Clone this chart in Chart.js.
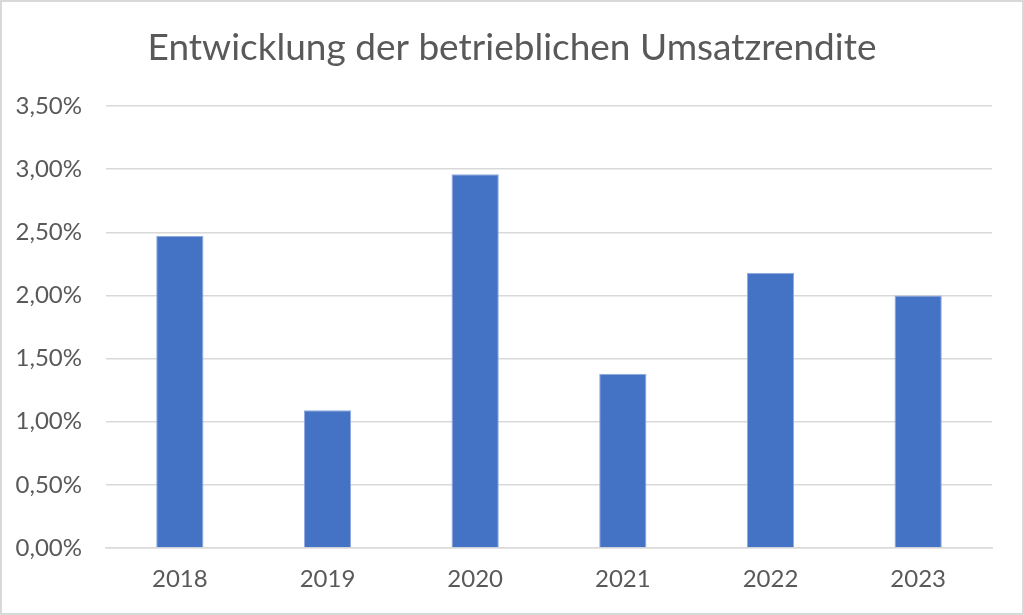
<!DOCTYPE html>
<html>
<head>
<meta charset="utf-8">
<script src="https://cdn.jsdelivr.net/npm/chart.js@4/dist/chart.umd.min.js"></script>
<style>
html,body{margin:0;padding:0;background:#fff;}
#wrap{width:1024px;height:615px;position:relative;}
</style>
</head>
<body>
<div id="wrap"><canvas id="c" width="1024" height="615"></canvas></div>
<script>
const titleText = 'Entwicklung der betrieblichen Umsatzrendite';
const categories = ['2018', '2019', '2020', '2021', '2022', '2023'];
const values = [2.47, 1.09, 2.96, 1.38, 2.18, 2.00];
const yTicks = [0, 0.5, 1.0, 1.5, 2.0, 2.5, 3.0, 3.5];

const fontFamily = 'Lato, "Open Sans", sans-serif';

const borderPlugin = {
  id: 'bg',
  beforeDraw(chart) {
    const ctx = chart.ctx;
    ctx.save();
    ctx.fillStyle = '#fff';
    ctx.fillRect(0, 0, chart.width, chart.height);
    ctx.strokeStyle = '#d9d9d9';
    ctx.lineWidth = 2;
    ctx.strokeRect(1, 1, chart.width - 2, chart.height - 2);
    ctx.restore();
  }
};

new Chart(document.getElementById('c'), {
  type: 'bar',
  data: {
    labels: categories,
    datasets: [{
      data: values,
      backgroundColor: '#4472c4',
      borderColor: '#8faadc',
      borderWidth: 1,
      categoryPercentage: 1,
      barPercentage: 0.32
    }]
  },
  options: {
    responsive: false,
    animation: false,
    devicePixelRatio: 1,
    layout: { padding: { left: 0, right: 0, top: 0, bottom: 17 } },
    plugins: {
      legend: { display: false },
      tooltip: { enabled: false },
      title: {
        display: true,
        text: titleText,
        color: '#595959',
        font: { family: fontFamily, size: 37, weight: 'normal' },
        padding: { top: 26, bottom: 35.6 }
      }
    },
    scales: {
      x: {
        grid: { display: false, drawTicks: false },
        border: { display: true, color: '#d9d9d9', width: 1.5 },
        ticks: { color: '#595959', font: { family: fontFamily, size: 24 }, padding: 17 },
        afterFit(s) { s.height = 50; }
      },
      y: {
        min: 0, max: 3.5,
        afterBuildTicks(s) { s.ticks = yTicks.map(v => ({ value: v })); },
        grid: { color: '#d9d9d9', lineWidth: 1.5, drawTicks: false },
        border: { display: false },
        ticks: {
          color: '#595959',
          font: { family: fontFamily, size: 24 },
          padding: 24,
          callback: v => v.toFixed(2).replace('.', ',') + '%'
        },
        afterFit(s) { s.width = 106; }
      },
      yRight: {
        type: 'linear',
        position: 'right',
        min: 0, max: 3.5,
        grid: { display: false, drawTicks: false },
        border: { display: false },
        ticks: { display: false },
        afterFit(s) { s.width = 32; }
      }
    }
  },
  plugins: [borderPlugin]
});
</script>
</body>
</html>
